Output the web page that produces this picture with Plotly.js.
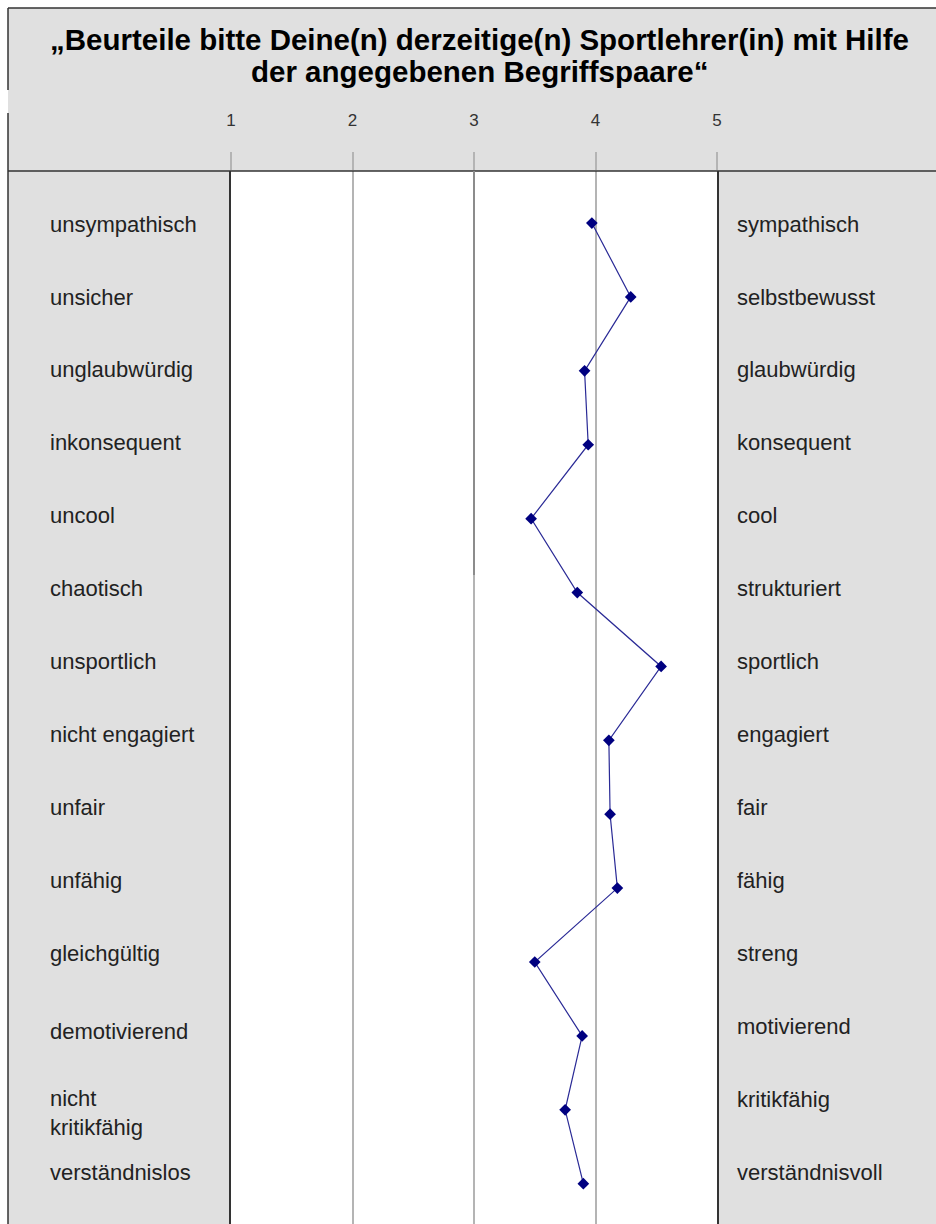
<!DOCTYPE html>
<html>
<head>
<meta charset="utf-8">
<script src="https://cdn.plot.ly/plotly-3.0.1.min.js"></script>
<style>html,body{margin:0;padding:0;background:#fff;}#chart{width:936px;height:1224px;}</style>
</head>
<body>
<div id="chart"></div>
<script>
// ---- data ----
const titleLines = ["„Beurteile bitte Deine(n) derzeitige(n) Sportlehrer(in) mit Hilfe", "der angegebenen Begriffspaare“"];
const leftLabels = ["unsympathisch","unsicher","unglaubwürdig","inkonsequent","uncool","chaotisch","unsportlich","nicht engagiert","unfair","unfähig","gleichgültig","demotivierend","nicht<br>kritikfähig","verständnislos"];
const rightLabels = ["sympathisch","selbstbewusst","glaubwürdig","konsequent","cool","strukturiert","sportlich","engagiert","fair","fähig","streng","motivierend","kritikfähig","verständnisvoll"];
const meanValues = [3.97,4.29,3.91,3.94,3.47,3.85,4.54,4.11,4.12,4.18,3.50,3.89,3.75,3.90];
const scaleTicks = [1,2,3,4,5];
const scaleTickText = ["1","2","3","4","5"];

// ---- layout helpers (pixels) ----
const W = 936, H = 1224, L = 231, R = 717, T = 171, B = 1224;
const px = p => (p - L) / (R - L);
const py = p => (B - p) / (B - T);
const rowIdx = leftLabels.map((_, i) => i);

const labelFont = {family: "Liberation Sans, Arial, sans-serif", size: 22, color: "#222"};
const annotations = [];
rowIdx.forEach(i => {
  const base = -1 + 0.92 * i;           // label rows are slightly tighter than data rows
  const extraL = (i === 11) ? -5 : (i === 12 ? -13 : 0);
  annotations.push({xref: "paper", yref: "y", x: px(48), y: i, xanchor: "left", yanchor: "middle",
    align: "left", text: leftLabels[i], showarrow: false, font: labelFont, yshift: base + extraL});
  annotations.push({xref: "paper", yref: "y", x: px(735), y: i, xanchor: "left", yanchor: "middle",
    align: "left", text: rightLabels[i], showarrow: false, font: labelFont, yshift: base});
});
const titleFont = {family: "Liberation Sans, Arial, sans-serif", size: 29.5, color: "#000"};
[39, 72].forEach((yy, k) => {
  annotations.push({xref: "paper", yref: "paper", x: px(479), y: py(yy), xanchor: "center", yanchor: "middle",
    text: "<b>" + titleLines[k] + "</b>", showarrow: false, font: titleFont});
});

const dark = "#333";
const shapes = [
  {type: "rect", xref: "paper", yref: "paper", x0: px(-5), x1: px(8), y0: py(1230), y1: py(-5), fillcolor: "#fff", line: {width: 0}},
  {type: "rect", xref: "paper", yref: "paper", x0: px(-5), x1: px(940), y0: py(8), y1: py(-5), fillcolor: "#fff", line: {width: 0}},
  {type: "line", xref: "paper", yref: "paper", x0: px(8), x1: px(940), y0: py(8), y1: py(8), line: {color: dark, width: 1.5}},
  {type: "line", xref: "paper", yref: "paper", x0: px(8), x1: px(8), y0: py(8), y1: py(90), line: {color: dark, width: 1.5}},
  {type: "line", xref: "paper", yref: "paper", x0: px(8), x1: px(8), y0: py(113), y1: py(1226), line: {color: dark, width: 1.5}},
  {type: "line", xref: "paper", yref: "paper", x0: px(8), x1: px(940), y0: py(171), y1: py(171), line: {color: dark, width: 1.5}},
  {type: "line", xref: "x", yref: "paper", x0: 3, x1: 3, y0: py(575), y1: py(171), line: {color: "#8c8c8c", width: 2}, layer: "above"}
];

const trace = {
  x: meanValues, y: rowIdx, type: "scatter", mode: "lines+markers",
  line: {color: "#2a2a96", width: 1.2},
  marker: {symbol: "diamond", size: 9, color: "#000080"},
  hoverinfo: "x+text", text: rightLabels
};

const layout = {
  width: W, height: H,
  margin: {l: L, r: W - R, t: T, b: 0, pad: 0},
  paper_bgcolor: "#e0e0e0", plot_bgcolor: "#fff",
  showlegend: false,
  xaxis: {range: [1, 5], side: "top", tickvals: scaleTicks, ticktext: scaleTickText,
    showgrid: true, gridcolor: "#b4b4b4", gridwidth: 2, zeroline: false, showline: false,
    ticks: "outside", ticklen: 18, tickwidth: 2, tickcolor: "#b4b4b4", ticklabelstandoff: 19,
    tickfont: {family: "Liberation Sans, Arial, sans-serif", size: 17, color: "#333"}, fixedrange: true},
  yaxis: {range: [13.545, -0.704], showgrid: false, zeroline: false, showticklabels: false, ticks: "",
    showline: true, mirror: true, linecolor: dark, linewidth: 2, fixedrange: true},
  annotations: annotations, shapes: shapes
};

Plotly.newPlot("chart", [trace], layout, {displayModeBar: false, staticPlot: true});
</script>
</body>
</html>
